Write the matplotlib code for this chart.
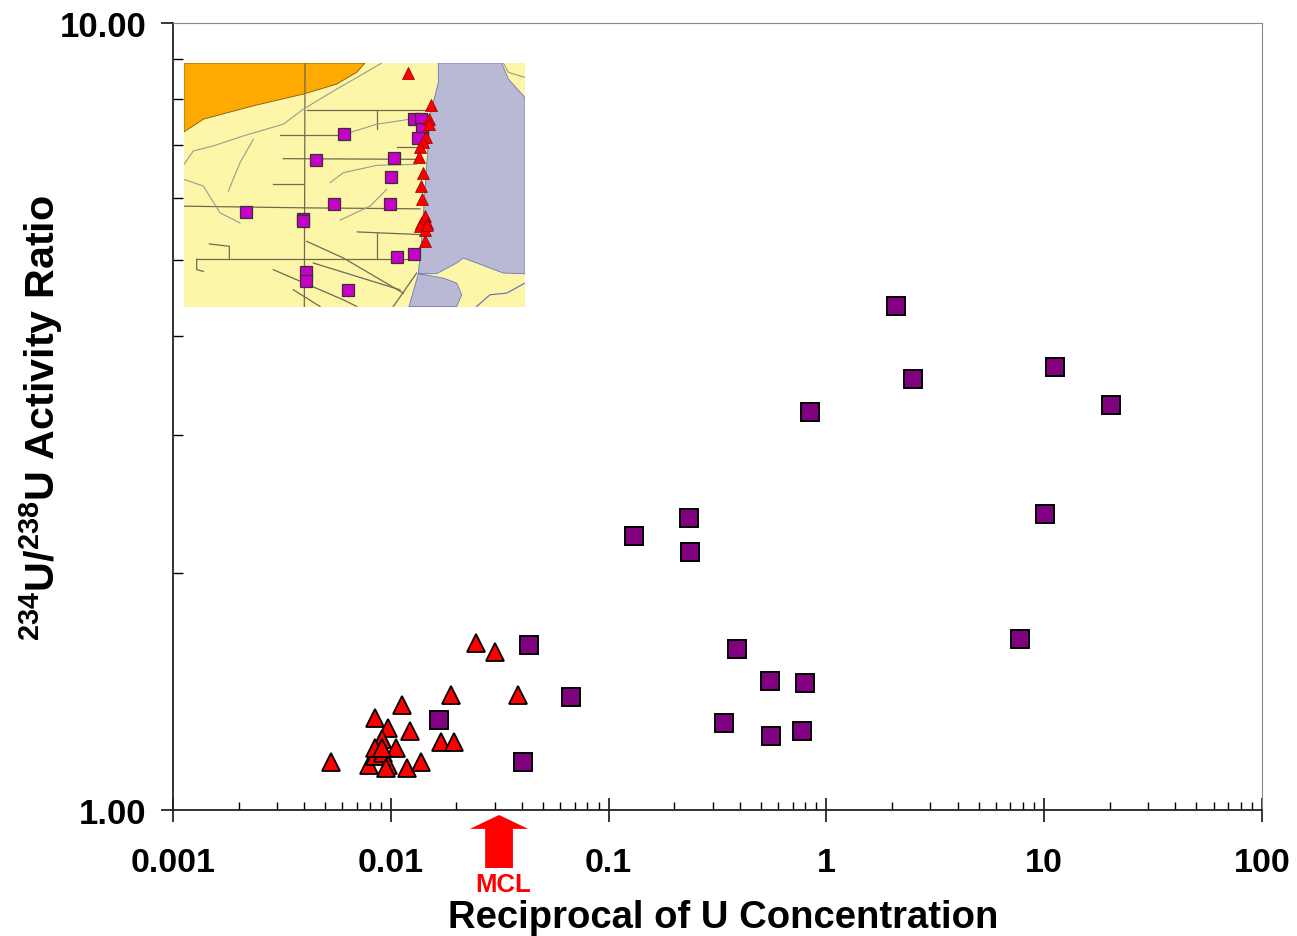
import matplotlib
matplotlib.use('Agg')
import matplotlib.pyplot as plt
from matplotlib.patches import Polygon
from matplotlib.ticker import LogLocator, NullFormatter

plt.rcParams['font.family'] = ['Liberation Sans', 'DejaVu Sans']
plt.rcParams['font.weight'] = 'bold'
plt.rcParams['mathtext.fontset'] = 'custom'
plt.rcParams['mathtext.rm'] = 'Liberation Sans:bold'
plt.rcParams['mathtext.bf'] = 'Liberation Sans:bold'

# scatter data
square_x = [2.09, 2.50, 0.84, 11.2, 20.3, 10.1, 0.234, 0.131, 0.236, 0.0431,
            0.389, 7.74, 0.0672, 0.551, 0.798, 0.0166, 0.339, 0.557, 0.773, 0.0405]
square_y = [4.37, 3.53, 3.20, 3.66, 3.27, 2.38, 2.35, 2.23, 2.13, 1.62,
            1.60, 1.65, 1.39, 1.46, 1.45, 1.30, 1.29, 1.24, 1.26, 1.15]
tri_x = [0.0246, 0.0301, 0.0384, 0.0189, 0.01125, 0.00846, 0.01225, 0.0097, 0.00912, 0.01057, 0.0170,
         0.0195, 0.00531, 0.00794, 0.00846, 0.00921, 0.00846, 0.0097, 0.0095, 0.01186, 0.01377, 0.00912]
tri_y = [1.63, 1.59, 1.40, 1.40, 1.36, 1.31, 1.26, 1.27, 1.23, 1.20, 1.22,
         1.22, 1.15, 1.14, 1.17, 1.18, 1.20, 1.14, 1.13, 1.13, 1.15, 1.20]
x_ticks = [0.001, 0.01, 0.1, 1, 10, 100]
x_tick_labels = ['0.001', '0.01', '0.1', '1', '10', '100']
y_ticks = [1, 10]
y_tick_labels = ['1.00', '10.00']
mcl_x = 0.0314

# inset map, in map units
map_square_x = [522, 733, 752, 755, 745, 438, 673, 662, 491, 661, 229, 399, 400, 732, 680, 409, 408, 533]
map_square_y = [253, 208, 208, 238, 267, 332, 327, 383, 465, 464, 487, 507, 515, 612, 621, 668, 693, 721]
map_tri_x = [713, 782, 776, 778, 768, 760, 750, 746, 758, 754, 757, 764, 752, 770, 750, 765, 772, 766]
map_tri_y = [73, 168, 210, 225, 262, 278, 292, 323, 371, 410, 448, 498, 520, 520, 530, 540, 525, 575]
orange_area = [(42, 42), (585, 42), (560, 70), (500, 105), (400, 135), (250, 170), (100, 210), (42, 248)]
water_area = [(805, 42), (995, 42), (1015, 90), (1065, 145), (1065, 672), (1000, 670), (880, 625), (860, 640),
              (800, 672), (745, 672), (717, 770), (860, 770), (875, 735), (860, 700), (820, 685), (745, 672),
              (755, 570), (770, 350), (780, 200), (805, 100)]
roads = [[(405, 42), (403, 770)], [(410, 182), (770, 182)], [(330, 256), (520, 256)],
         [(340, 328), (740, 330)], [(42, 470), (400, 475), (750, 478)], [(80, 628), (720, 628)],
         [(80, 628), (80, 660), (100, 665)], [(622, 182), (622, 240)], [(622, 550), (622, 628)],
         [(562, 547), (750, 555)], [(680, 292), (750, 292)], [(310, 660), (520, 750), (560, 770)],
         [(370, 720), (450, 770)], [(410, 575), (520, 625), (700, 730)], [(430, 640), (690, 720)],
         [(118, 583), (178, 590), (178, 628)], [(310, 405), (400, 405)], [(740, 670), (670, 770)]]
streams = [[(520, 256), (620, 225), (720, 210)], [(480, 400), (520, 370), (620, 348), (740, 345)],
           [(510, 512), (600, 470), (650, 420)], [(42, 390), (100, 410), (150, 490), (210, 520)],
           [(250, 270), (210, 340), (175, 425)],
           [(42, 345), (70, 305), (130, 290), (220, 260), (340, 225), (400, 180), (500, 120), (570, 80), (635, 42)],
           [(1000, 42), (1015, 70), (1065, 85)]]
creek = [(920, 770), (960, 735), (1010, 730), (1065, 700)]

fig = plt.figure(figsize=(12.97, 9.37), dpi=100)
ax = fig.add_axes([173 / 1297, 1 - 811 / 937, 1089 / 1297, 787 / 937])
ax.set_xscale('log')
ax.set_yscale('log')
ax.plot(tri_x, tri_y, '^', color='#ff0000', mec='black', mew=1.3, ms=13, clip_on=False)
ax.plot(square_x, square_y, 's', color='#800080', mec='black', mew=1.4, ms=13, clip_on=False)
ax.set_xlim(0.001, 100)
ax.set_ylim(1, 10)

ax.set_xticks(x_ticks)
ax.set_xticklabels(x_tick_labels, fontsize=24.5)
ax.set_yticks(y_ticks)
ax.set_yticklabels(y_tick_labels, fontsize=25)
ax.xaxis.set_minor_locator(LogLocator(base=10, subs=range(2, 10), numticks=12))
ax.yaxis.set_minor_locator(LogLocator(base=10, subs=range(2, 10), numticks=12))
ax.xaxis.set_minor_formatter(NullFormatter())
ax.yaxis.set_minor_formatter(NullFormatter())
ax.tick_params(axis='x', which='major', direction='inout', length=17, width=1.1, pad=18)
ax.tick_params(axis='x', which='minor', direction='in', length=6, width=1)
ax.tick_params(axis='y', which='major', direction='out', length=9, width=1.1, pad=10)
ax.tick_params(axis='y', which='minor', direction='in', length=7, width=1)
for side in ['left', 'bottom']:
    ax.spines[side].set_linewidth(1.3)
    ax.spines[side].set_color('#222222')
for side in ['top', 'right']:
    ax.spines[side].set_linewidth(0.8)
    ax.spines[side].set_color('#888888')

fig.text(723 / 1297, 1 - 918 / 937, 'Reciprocal of U Concentration', fontsize=27.5, ha='center', va='center')
fig.text(41 / 1297, 1 - 418 / 937, r'$^{234}$U/$^{238}$U Activity Ratio', fontsize=29.7,
         rotation=90, ha='center', va='center')

# MCL arrow under the axis
ax.annotate('', xy=(mcl_x, -5 / 787), xytext=(mcl_x, -58 / 787),
            xycoords=('data', 'axes fraction'), textcoords=('data', 'axes fraction'),
            arrowprops=dict(width=20, headwidth=42, headlength=10, shrink=0, color='#ff0000', lw=0))
fig.text(503 / 1297, 1 - 885 / 937, 'MCL', color='#ff0000', fontsize=18.5, ha='center', va='center')

# inset map
inset = fig.add_axes([184 / 1297, 1 - 307.5 / 937, 341 / 1297, 243.5 / 937])
inset.set_xlim(42, 1065)
inset.set_ylim(770, 42)
inset.set_facecolor('#fdf6a8')
inset.add_patch(Polygon(orange_area, fc='#ffaa00', ec='#7a5a10', lw=0.6))
inset.add_patch(Polygon(water_area, fc='#b9b9d6', ec='#6f77b0', lw=0.6))
for road in roads:
    inset.plot([p[0] for p in road], [p[1] for p in road], color='#6e6a55', lw=0.9)
for stream in streams:
    inset.plot([p[0] for p in stream], [p[1] for p in stream], color='#9a9a90', lw=0.8)
inset.plot([p[0] for p in creek], [p[1] for p in creek], color='#6f77b0', lw=0.9)
inset.plot(map_square_x, map_square_y, 's', color='#c800c8', mec='#333333', mew=0.9, ms=8.5)
inset.plot(map_tri_x, map_tri_y, '^', color='#ff0000', mec='#8a0000', mew=0.5, ms=8)
inset.set_xticks([])
inset.set_yticks([])
for s in inset.spines.values():
    s.set_visible(False)

fig.savefig('out.png', dpi=100)
